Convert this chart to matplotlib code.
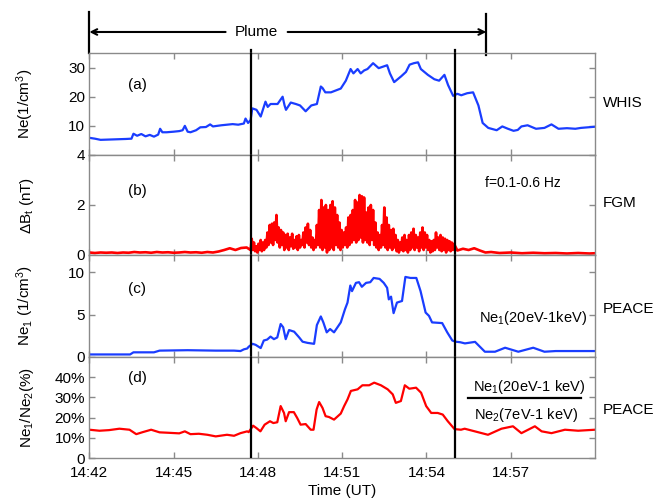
import numpy as np
import matplotlib
matplotlib.use("Agg")
import matplotlib.pyplot as plt
import matplotlib.transforms as mtransforms

plt.rcParams['font.family'] = ['Liberation Sans', 'DejaVu Sans']
plt.rcParams['mathtext.fontset'] = 'custom'
plt.rcParams['mathtext.rm'] = 'Liberation Sans'
plt.rcParams['mathtext.it'] = 'Liberation Sans'

# ---------------- data (time in minutes after 14:42 UT) ----------------
xtick_pos = [0, 3, 6, 9, 12, 15]
xtick_labels = ["14:42", "14:45", "14:48", "14:51", "14:54", "14:57"]
plume_start, plume_end = 0.0, 14.13
boundary_times = [5.76, 13.0]

# (a) WHIS Ne (1/cm^3)
t_a = [0, 0.2, 0.4, 0.7, 1.0, 1.3, 1.5, 1.57, 1.7, 1.85, 2.0, 2.15, 2.3, 2.45, 2.52, 2.6,
       2.75, 3.0, 3.2, 3.32, 3.4, 3.5, 3.6, 3.8, 3.95, 4.15, 4.3, 4.4, 4.7, 4.9, 5.1, 5.3,
       5.5, 5.56, 5.65, 5.74, 5.8, 5.95, 6.1, 6.27, 6.35, 6.45, 6.7, 6.88, 6.95, 7.0, 7.17,
       7.35, 7.5, 7.7, 7.9, 8.1, 8.24, 8.3, 8.4, 8.6, 8.95, 9.13, 9.3, 9.4, 9.55, 9.66, 9.78,
       9.9, 10.1, 10.3, 10.45, 10.6, 10.7, 10.85, 11.1, 11.27, 11.4, 11.55, 11.7, 11.8,
       12.05, 12.28, 12.45, 12.64, 12.77, 12.95, 13.1, 13.24, 13.45, 13.66, 13.85, 14.0,
       14.2, 14.5, 14.7, 14.9, 15.1, 15.25, 15.38, 15.6, 15.9, 16.2, 16.45, 16.7, 17.0,
       17.3, 17.5, 18.0]
ne_a = [5.9, 5.6, 5.2, 5.3, 5.4, 5.5, 5.6, 7.3, 6.6, 7.2, 6.4, 6.9, 6.3, 7.0, 9.0, 7.8,
        7.8, 8.0, 8.2, 8.5, 10.0, 8.0, 7.8, 8.5, 9.5, 9.6, 10.5, 9.8, 10.2, 10.4, 10.6, 10.4,
        10.8, 12.5, 11.0, 12.0, 16.0, 15.5, 13.2, 18.3, 16.5, 17.5, 17.5, 20.0, 17.0, 15.5, 18.0,
        17.5, 17.0, 15.0, 17.0, 17.5, 23.5, 23.0, 21.5, 21.5, 22.8, 25.5, 29.5, 28.0, 29.5, 28.0, 29.0,
        29.5, 31.5, 29.8, 30.3, 30.8, 28.0, 25.0, 27.0, 28.5, 31.0, 31.5, 31.8, 29.5,
        27.5, 26.0, 25.5, 27.5, 24.0, 20.3, 21.0, 20.5, 21.2, 21.5, 17.0, 11.0,
        9.3, 8.5, 9.8, 9.0, 8.3, 8.6, 9.8, 10.2, 9.0, 9.3, 10.5, 9.0, 9.2,
        9.0, 9.3, 9.7]

# (b) FGM delta B_t (nT), 0.1-0.6 Hz
t_b_pre = [0, 0.2, 0.4, 0.6, 0.8, 1.0, 1.2, 1.4, 1.6, 1.8, 2.0, 2.2, 2.4, 2.6, 2.8, 3.0,
           3.2, 3.4, 3.6, 3.8, 4.0, 4.2, 4.4, 4.6, 4.8, 5.0, 5.2, 5.4, 5.6, 5.74]
db_pre = [0.1, 0.08, 0.1, 0.09, 0.1, 0.08, 0.1, 0.09, 0.12, 0.1, 0.11, 0.09, 0.12, 0.1, 0.11, 0.09,
          0.1, 0.12, 0.1, 0.11, 0.09, 0.12, 0.1, 0.14, 0.2, 0.27, 0.2, 0.28, 0.3, 0.2]
db_act = [0.65, 0.2, 0.5, 0.15, 0.35, 0.1, 0.45, 0.2, 0.6, 0.15,
          0.5, 0.2, 0.6, 0.3, 0.9, 0.4, 1.2, 0.5, 1.25, 0.4,
          1.3, 0.6, 1.6, 0.5, 1.1, 0.3, 1.0, 0.4, 0.9, 0.2,
          0.8, 0.3, 0.85, 0.2, 0.7, 0.35, 0.85, 0.25, 0.6, 0.3,
          0.75, 0.2, 0.8, 0.3, 0.6, 0.4, 0.9, 0.3, 1.1, 0.5,
          1.25, 0.4, 1.0, 0.3, 0.7, 0.2, 0.6, 0.3, 1.2, 0.4,
          1.8, 0.3, 2.2, 0.2, 1.9, 0.3, 2.0, 0.1, 1.8, 0.2,
          2.0, 0.3, 2.15, 0.2, 1.9, 0.4, 1.6, 0.3, 1.3, 0.2,
          1.0, 0.3, 0.9, 0.4, 1.1, 0.3, 1.5, 0.4, 1.6, 0.5,
          1.8, 0.6, 2.2, 0.5, 2.1, 0.6, 2.4, 0.7, 2.35, 0.5,
          2.3, 0.6, 1.7, 0.5, 1.9, 0.4, 2.0, 0.6, 1.8, 0.4,
          1.3, 0.3, 0.9, 0.2, 0.8, 0.3, 1.2, 0.4, 1.9, 0.3,
          1.5, 0.2, 1.2, 0.3, 1.0, 0.2, 1.05, 0.3, 0.8, 0.15,
          0.6, 0.1, 0.5, 0.2, 0.7, 0.15, 0.8, 0.2, 0.6, 0.1,
          0.8, 0.2, 0.9, 0.3, 1.05, 0.2, 0.8, 0.3, 0.7, 0.15,
          0.9, 0.3, 1.1, 0.2, 0.9, 0.3, 0.8, 0.2, 0.6, 0.1,
          0.55, 0.15, 0.6, 0.2, 0.9, 0.3, 0.7, 0.2, 0.8, 0.15,
          0.7, 0.2, 0.65, 0.1, 0.6, 0.2, 0.55, 0.15, 0.5, 0.2,
          0.45]
t_b_post = [13.1, 13.3, 13.5, 13.7, 13.9, 14.1, 14.3, 14.6, 15.0, 15.4, 15.8, 16.2, 16.6,
            17.0, 17.4, 17.8, 18.0]
db_post = [0.18, 0.25, 0.2, 0.27, 0.18, 0.1, 0.12, 0.08, 0.1, 0.07, 0.09, 0.07, 0.08,
           0.06, 0.08, 0.06, 0.07]

# (c) PEACE Ne1 (20eV-1keV) (1/cm^3)
t_c = [0, 1.45, 1.57, 2.3, 2.5, 3.5, 4.5, 5.15, 5.38, 5.5, 5.62, 5.67, 5.81, 5.92, 6.1, 6.21,
       6.33, 6.45, 6.57, 6.69, 6.81, 6.9, 6.99, 7.11, 7.29, 7.47, 7.59, 7.77, 8.0, 8.1, 8.24,
       8.33, 8.45, 8.57, 8.71, 8.95, 9.1, 9.19, 9.29, 9.35, 9.49, 9.6, 9.7, 9.85, 10.0, 10.12,
       10.33, 10.48, 10.6, 10.66, 10.74, 10.83, 10.95, 11.13, 11.25, 11.43, 11.64, 11.79,
       11.97, 12.09, 12.2, 12.56, 12.74, 12.92, 13.04, 13.2, 13.37, 13.73, 14.08, 14.44,
       14.8, 15.27, 15.8, 16.2, 16.6, 18.0]
ne1_c = [0.3, 0.3, 0.55, 0.55, 0.75, 0.8, 0.75, 0.75, 0.7, 0.9, 1.0, 1.2, 1.55, 1.43, 1.05, 1.94,
         2.05, 2.4, 2.1, 2.3, 3.88, 3.5, 2.1, 3.17, 2.98, 2.3, 1.8, 1.66, 1.55, 3.76, 4.77,
         4.07, 2.9, 3.29, 2.9, 4.07, 5.62, 6.4, 8.41, 7.75, 8.72, 8.8, 8.26, 8.72, 8.8, 9.3,
         9.19, 8.72, 8.14, 6.78, 7.1, 5.16, 6.4, 6.59, 9.42, 9.3, 9.3, 7.75,
         5.23, 4.84, 4.07, 3.99, 2.9, 1.94, 1.8, 1.74, 1.6, 1.78, 0.62, 0.62,
         1.09, 0.62, 1.09, 0.62, 0.7, 0.7]

# (d) PEACE Ne1/Ne2 (%)
t_d = [0, 0.36, 0.7, 1.07, 1.43, 1.67, 1.9, 2.2, 2.5, 2.8, 3.2, 3.4, 3.6, 3.9, 4.2, 4.5, 4.9,
       5.15, 5.38, 5.62, 5.67, 5.83, 5.95, 6.09, 6.24, 6.43, 6.55, 6.69, 6.81, 6.93, 6.99,
       7.11, 7.28, 7.4, 7.52, 7.7, 7.88, 7.98, 8.09, 8.18, 8.3, 8.41, 8.53, 8.71, 8.95, 9.07,
       9.19, 9.31, 9.55, 9.72, 9.96, 10.14, 10.38, 10.62, 10.8, 10.91, 11.09, 11.23, 11.39,
       11.63, 11.81, 11.99, 12.17, 12.4, 12.58, 12.76, 13.0, 13.23, 13.36, 13.72, 14.19,
       14.67, 15.08, 15.38, 15.86, 16.1, 16.45, 16.93, 17.4, 18.0]
ratio_d = [14, 13.5, 13.8, 14.5, 14, 11.8, 12.8, 14, 12.7, 12.5, 12.2, 13.2, 11.8, 12.0, 11.5, 10.7, 11.5,
           11, 12.3, 13.2, 12.8, 16, 14.8, 13.2, 16.5, 18.2, 17.3, 17.7, 25.7, 22.3, 18.2,
           22.7, 22.7, 19.8, 16.5, 16.8, 14, 14, 24, 27.7, 24.8, 20.7, 20.3, 19, 22, 25.7,
           29, 33.2, 34, 36, 36, 37.3, 36, 34, 31.5, 27.3, 28.2, 36, 34.3,
           34.8, 32.3, 25.7, 22.3, 22.3, 21.5, 18.2, 14.3, 14, 14.5, 13.2, 11.5,
           14.5, 15.7, 12.3, 15.7, 13.2, 12.3, 14, 13.5, 14]

# ---------------- figure ----------------
BLUE = '#1a3dff'
RED = '#ff0000'
GRAY = '#8a8a8a'
FS = 11

fig = plt.figure(figsize=(6.54, 5.0), dpi=100)
left, width = 0.1366, 0.7732
ax_a = fig.add_axes([left, 0.690, width, 0.204])
ax_b = fig.add_axes([left, 0.490, width, 0.200])
ax_c = fig.add_axes([left, 0.286, width, 0.204])
ax_d = fig.add_axes([left, 0.084, width, 0.202])
axes = [ax_a, ax_b, ax_c, ax_d]

ax_a.plot(t_a, ne_a, color=BLUE, lw=1.6)
t_b_act = 5.78 + 0.04 * np.arange(len(db_act))
t_b = np.concatenate([t_b_pre, t_b_act, t_b_post])
db = np.concatenate([db_pre, db_act, db_post])
ax_b.plot(t_b, db, color=RED, lw=1.9)
ax_c.plot(t_c, ne1_c, color=BLUE, lw=1.6)
ax_d.plot(t_d, ratio_d, color=RED, lw=1.6)

ax_a.set_ylim(0, 35)
ax_a.set_yticks([10, 20, 30])
ax_b.set_ylim(0, 4)
ax_b.set_yticks([0, 2, 4])
ax_c.set_ylim(0, 12)
ax_c.set_yticks([0, 5, 10])
ax_d.set_ylim(0, 50)
ax_d.set_yticks([0, 10, 20, 30, 40])
ax_d.set_yticklabels(["0", "10%", "20%", "30%", "40%"])

for ax in axes:
    ax.set_xlim(0, 18)
    ax.set_xticks(xtick_pos)
    for s in ax.spines.values():
        s.set_color(GRAY)
        s.set_linewidth(1.0)
    ax.tick_params(direction='in', top=True, right=True, color=GRAY, length=4,
                   width=1.0, labelsize=FS, labelcolor='black', pad=3)
    ax.yaxis.set_label_coords(-0.105, 0.5)
    for tb in boundary_times:
        ax.axvline(tb, color='black', lw=1.6, zorder=5)
for ax in axes[:-1]:
    ax.tick_params(labelbottom=False)
ax_d.tick_params(axis='x', pad=6)
ax_d.set_xticklabels(xtick_labels)
ax_d.set_xlabel("Time (UT)", fontsize=FS, labelpad=3)

ax_a.set_ylabel("Ne(1/cm$^3$)", fontsize=FS)
ax_b.set_ylabel(r"$\Delta$B$_t$ (nT)", fontsize=FS)
ax_c.set_ylabel("Ne$_1$ (1/cm$^3$)", fontsize=FS)
ax_d.set_ylabel("Ne$_1$/Ne$_2$(%)", fontsize=FS)

for ax, lab, yy in [(ax_a, "(a)", 0.686), (ax_b, "(b)", 0.64), (ax_c, "(c)", 0.667), (ax_d, "(d)", 0.79)]:
    ax.text(1.7, yy, lab, transform=mtransforms.blended_transform_factory(ax.transData, ax.transAxes),
            ha='center', va='center', fontsize=FS)

for ax, lab, yy in [(ax_a, "WHIS", 0.51), (ax_b, "FGM", 0.52), (ax_c, "PEACE", 0.47), (ax_d, "PEACE", 0.475)]:
    ax.text(1.016, yy, lab, transform=ax.transAxes, ha='left', va='center', fontsize=FS)

tb_ = mtransforms.blended_transform_factory(ax_b.transData, ax_b.transAxes)
ax_b.text(15.44, 0.72, "f=0.1-0.6 Hz", transform=tb_, ha='center', va='center', fontsize=10)
tc_ = mtransforms.blended_transform_factory(ax_c.transData, ax_c.transAxes)
ax_c.text(15.8, 0.38, "Ne$_1$(20eV-1keV)", transform=tc_, ha='center', va='center', fontsize=10.5)
td_ = mtransforms.blended_transform_factory(ax_d.transData, ax_d.transAxes)
ax_d.text(15.66, 0.70, "Ne$_1$(20eV-1 keV)", transform=td_, ha='center', va='center', fontsize=10.5)
ax_d.plot([13.49, 17.49], [0.594, 0.594], transform=td_, color='black', lw=1.6, clip_on=False)
ax_d.text(15.55, 0.43, "Ne$_2$(7eV-1 keV)", transform=td_, ha='center', va='center', fontsize=10.5)

# Plume annotation
ta = mtransforms.blended_transform_factory(ax_a.transData, ax_a.transAxes)
ax_a.plot([plume_start, plume_start], [1.0, 1.40], transform=ta, color='black', lw=1.6, clip_on=False)
ax_a.plot([plume_end, plume_end], [0.98, 1.38], transform=ta, color='black', lw=1.6, clip_on=False)
ax_a.annotate("", xy=(plume_start, 1.206), xytext=(4.85, 1.206), xycoords=ta, textcoords=ta,
              arrowprops=dict(arrowstyle='->', lw=1.5, color='black', shrinkA=0, shrinkB=0))
ax_a.annotate("", xy=(plume_end, 1.206), xytext=(7.06, 1.206), xycoords=ta, textcoords=ta,
              arrowprops=dict(arrowstyle='->', lw=1.5, color='black', shrinkA=0, shrinkB=0))
ax_a.text(5.95, 1.206, "Plume", transform=ta, ha='center', va='center', fontsize=FS)
for tb in boundary_times:
    ax_a.plot([tb, tb], [1.0, 1.03], transform=ta, color='black', lw=1.6, clip_on=False)

fig.savefig("out.png", dpi=100)
